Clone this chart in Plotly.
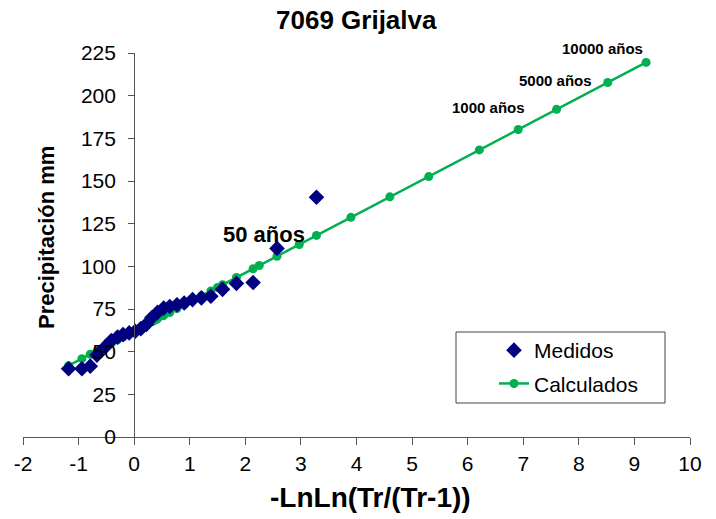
import plotly.graph_objects as go

# Medidos (measured) - Gumbel reduced variate vs precipitation
med_x = [3.28, 2.57, 2.14, 1.84, 1.59, 1.38, 1.21, 1.05, 0.90, 0.77, 0.64, 0.53, 0.42,
         0.32, 0.22, 0.12, 0.02, -0.09, -0.20, -0.30, -0.41, -0.53, -0.67, -0.79, -0.94, -1.18]
med_y = [140.5, 110.5, 90.5, 90.0, 86.5, 82.5, 81.5, 80.5, 78.5, 77.5, 76.5, 75.5, 73.0,
         70.0, 66.0, 63.5, 62.0, 61.0, 60.0, 58.5, 56.5, 52.5, 48.0, 41.5, 40.0, 40.0]

# Calculados (fitted Gumbel) points
cal_x = [-1.18, -0.94, -0.79, -0.67, -0.53, -0.41, -0.30, -0.20, -0.09, 0.02, 0.12, 0.22,
         0.32, 0.37, 0.42, 0.53, 0.64, 0.77, 0.90, 1.05, 1.21, 1.38, 1.50, 1.59, 1.84,
         2.14, 2.25, 2.57, 2.97, 3.28, 3.90, 4.60, 5.30, 6.21, 6.91, 7.60, 8.52, 9.21]
cal_y = [41.8, 45.9, 48.5, 50.5, 52.9, 55.0, 56.9, 58.6, 60.5, 62.3, 64.1, 65.8,
         67.5, 68.3, 69.2, 71.1, 72.9, 75.2, 77.4, 80.0, 82.7, 85.6, 87.6, 89.2, 93.5,
         98.6, 100.5, 105.9, 112.8, 118.1, 128.7, 140.7, 152.6, 168.2, 180.2, 192.0, 207.7, 219.5]

x_ticks = [-2, -1, 0, 1, 2, 3, 4, 5, 6, 7, 8, 9, 10]
y_ticks = [0, 25, 50, 75, 100, 125, 150, 175, 200, 225]

FONT = "Liberation Sans, Arial, sans-serif"

fig = go.Figure()
fig.add_trace(go.Scatter(
    x=cal_x, y=cal_y, mode="lines+markers", name="Calculados",
    line=dict(color="#00B050", width=2.5),
    marker=dict(symbol="circle", size=9, color="#00B050"),
    legendgroup="b", legendrank=2,
))
fig.add_trace(go.Scatter(
    x=med_x, y=med_y, mode="markers", name="Medidos",
    marker=dict(symbol="diamond", size=12, color="#000080"),
    legendgroup="a", legendrank=1,
))

PL, PR, PT, PB = 23, 690, 53, 437  # plot area in screenshot pixels
W, H = 716, 519
L, T = PL, PT
R, B = W - PR, H - PB
pw, ph = PR - PL, PB - PT

def px(xp):
    return (xp - PL) / pw

def py(yp):
    return (PB - yp) / ph

def note(text, x, y, size, angle=0):
    return dict(text=text, xref="paper", yref="paper", x=px(x), y=py(y),
                xanchor="center", yanchor="middle", showarrow=False,
                textangle=angle, font=dict(size=size, family=FONT, color="black"))

fig.update_layout(
    width=W, height=H,
    margin=dict(l=L, r=R, t=T, b=B, autoexpand=False),
    plot_bgcolor="white", paper_bgcolor="white",
    font=dict(family=FONT, size=21, color="black"),
    showlegend=True,
    legend=dict(
        x=px(494), y=py(330), xanchor="left", yanchor="top",
        bgcolor="rgba(0,0,0,0)", borderwidth=0,
        font=dict(size=21), tracegroupgap=3, traceorder="grouped",
    ),
    xaxis=dict(
        range=[-2, 10], tickvals=x_ticks, ticktext=[str(v) for v in x_ticks],
        showgrid=False, zeroline=False, showline=True, linecolor="#555", linewidth=1,
        ticks="outside", ticklen=7, tickcolor="#555", tickfont=dict(size=21),
        ticklabelstandoff=1, automargin=False, domain=[0, 1],
    ),
    yaxis=dict(
        range=[0, 225], tickvals=y_ticks, ticktext=[str(v) for v in y_ticks],
        showgrid=False, zeroline=False, showline=True, linecolor="#555", linewidth=1,
        ticks="outside", ticklen=6, tickcolor="#555", tickfont=dict(size=21),
        ticklabelstandoff=8, automargin=False,
        anchor="free", position=2 / 12,
    ),
    shapes=[dict(type="rect", xref="paper", yref="paper",
                 x0=px(456), x1=px(665), y0=py(403), y1=py(332),
                 line=dict(color="#444", width=1), fillcolor="rgba(0,0,0,0)")],
    annotations=[
        note("<b>7069 Grijalva</b>", 356, 20, 26),
        note("<b>-LnLn(Tr/(Tr-1))</b>", 370, 497, 28),
        note("<b>Precipitación mm</b>", 46, 238, 22, -90),
        note("<b>10000 años</b>", 602, 48, 15),
        note("<b>5000 años</b>", 555, 81, 15),
        note("<b>1000 años</b>", 488, 108, 15),
        note("<b>50 años</b>", 264, 234, 22),
    ],
)

fig.write_html("out.html", config={"displayModeBar": False},
               post_script="document.body.style.margin='0px';")
